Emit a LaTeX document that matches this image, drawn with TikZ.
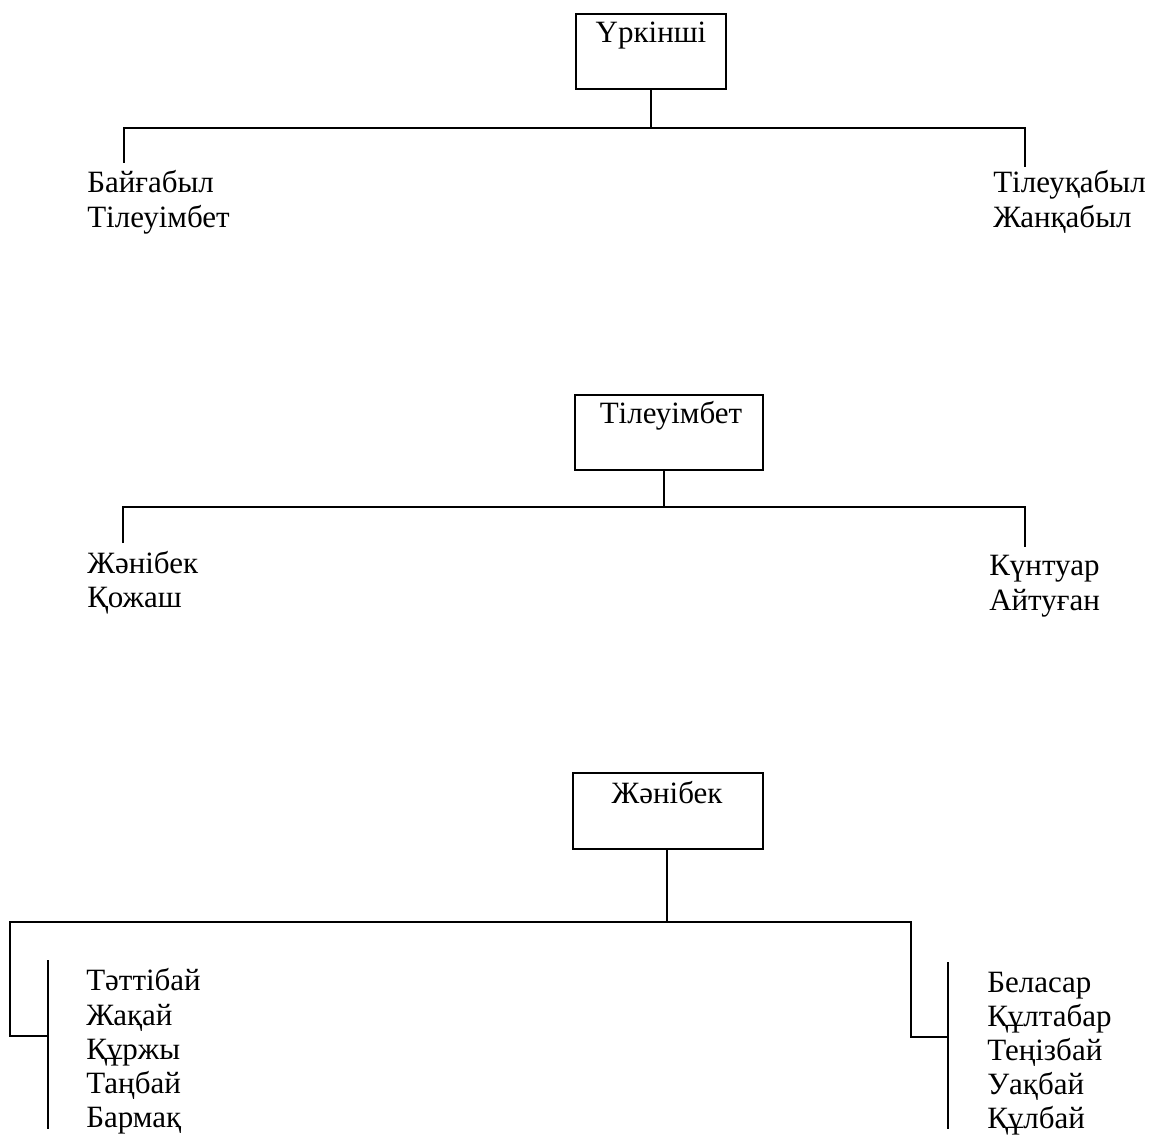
\documentclass[tikz,border=0pt]{standalone}
\usepackage{fontspec}
\setmainfont{Liberation Serif}
\begin{document}
\begin{tikzpicture}[x=1pt,y=-1pt,
  line width=2.5pt,
  boxnode/.style={draw, line width=2.5pt, inner sep=0pt},
  nm/.style={font=\fontsize{31}{35}\selectfont, inner sep=0pt, anchor=base west},
  boxtext/.style={font=\fontsize{31}{35}\selectfont, inner sep=0pt, anchor=base}]
\useasboundingbox (0,0) rectangle (1150,1139);
\fill[white] (0,0) rectangle (1150,1139);

% ---------- tree 1 ----------
\node[boxnode, minimum width=150pt, minimum height=75pt] (b1) at (651,51.5) {};
\node[boxtext] (b1t) at (651,43) {Үркінші};
\coordinate (h1) at (651,128);
\coordinate (l1) at (124,163);
\coordinate (r1) at (1025,167);
\draw (b1.south) -- (h1);
\draw (l1) |- (h1) -| (r1);
\node[nm] (a1) at (86,193) {Байғабыл};
\node[nm] (a2) at (86,228) {Тілеуімбет};
\node[nm] (a3) at (992,193) {Тілеуқабыл};
\node[nm] (a4) at (992,228) {Жанқабыл};

% ---------- tree 2 ----------
\node[boxnode, minimum width=188pt, minimum height=75pt] (b2) at (669,432.5) {};
\node[boxtext] (b2t) at (671,423) {Тілеуімбет};
\coordinate (h2) at (664,507);
\coordinate (l2) at (123,543);
\coordinate (r2) at (1025,547);
\draw (b2.south -| h2) -- (h2);
\draw (l2) |- (h2) -| (r2);
\node[nm] (c1) at (86,573) {Жәнібек};
\node[nm] (c2) at (86,607) {Қожаш};
\node[nm] (c3) at (988,575) {Күнтуар};
\node[nm] (c4) at (988,610) {Айтуған};

% ---------- tree 3 ----------
\node[boxnode, minimum width=190pt, minimum height=76pt] (b3) at (668,811) {};
\node[boxtext] (b3t) at (667,803) {Жәнібек};
\coordinate (h3) at (667,922);
\coordinate (lc) at (10,1036);
\coordinate (lj) at (48,1036);
\coordinate (lt) at (48,960);
\coordinate (lb) at (48,1129);
\coordinate (rc) at (911,1037);
\coordinate (rj) at (948,1037);
\coordinate (rt) at (948,962);
\coordinate (rb) at (948,1129);
\draw (b3.south -| h3) -- (h3);
\draw (h3) -| (lc) -- (lj);
\draw (h3) -| (rc) -- (rj);
\draw (lt) -- (lb);
\draw (rt) -- (rb);
\node[nm] (d1) at (85,990) {Тәттібай};
\node[nm] (d2) at (85,1025) {Жақай};
\node[nm] (d3) at (85,1059) {Құржы};
\node[nm] (d4) at (85,1093) {Таңбай};
\node[nm] (d5) at (85,1127) {Бармақ};
\node[nm] (e1) at (986,992) {Беласар};
\node[nm] (e2) at (986,1026) {Құлтабар};
\node[nm] (e3) at (986,1060) {Теңізбай};
\node[nm] (e4) at (986,1094) {Уақбай};
\node[nm] (e5) at (986,1128) {Құлбай};
\end{tikzpicture}
\end{document}
